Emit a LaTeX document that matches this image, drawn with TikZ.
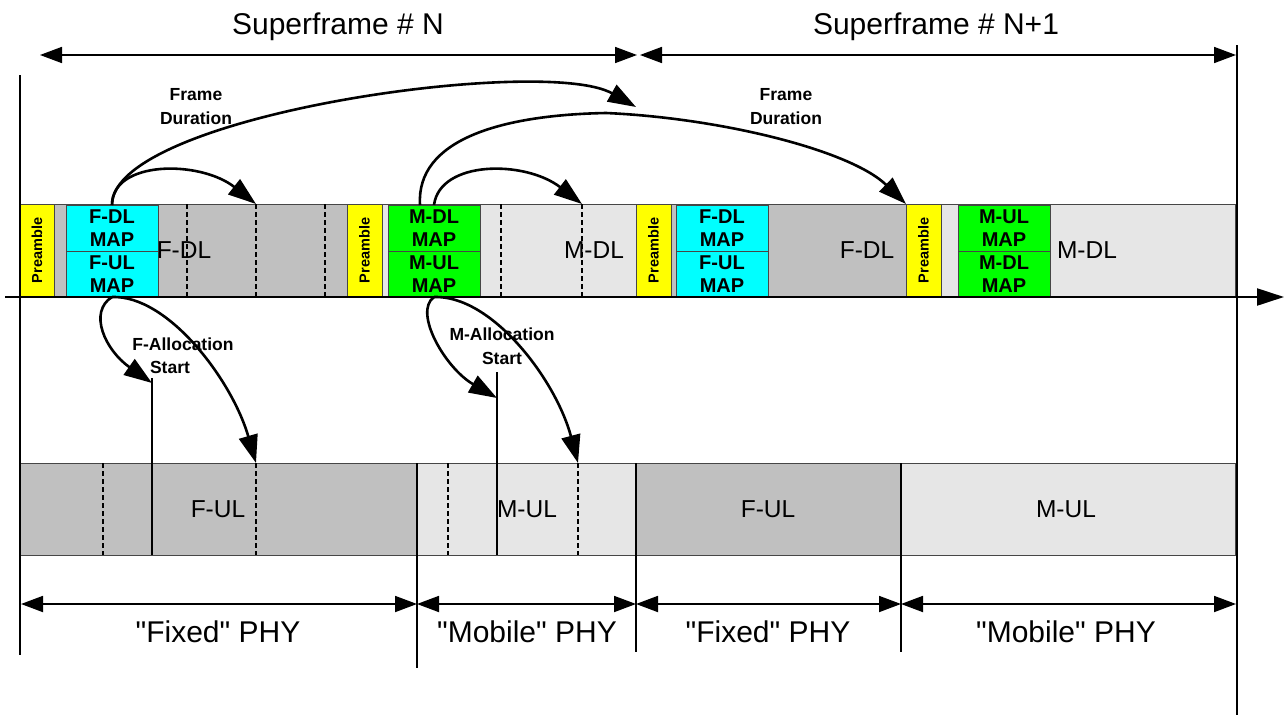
\documentclass[tikz,border=0pt]{standalone}
\usepackage{fontspec}
\setmainfont{Liberation Sans}
\usetikzlibrary{arrows.meta}
\definecolor{preY}{RGB}{255,255,0}
\definecolor{mapC}{RGB}{0,255,255}
\definecolor{mapG}{RGB}{0,255,0}
\definecolor{fGray}{RGB}{192,192,192}
\definecolor{mGray}{RGB}{230,230,230}
\definecolor{edgeC}{RGB}{70,70,70}
\begin{document}
\begin{tikzpicture}[x=1pt,y=-1pt,
  seg/.style={draw=edgeC, line width=0.9pt, inner sep=0pt, outer sep=0pt, anchor=north west},
  mapbox/.style={draw=edgeC, line width=0.9pt, inner sep=0pt, outer sep=0pt, minimum width=92pt, minimum height=46pt, align=center, font=\fontsize{20}{23}\selectfont\bfseries},
  pretext/.style={rotate=90, font=\fontsize{14.5}{16}\selectfont\bfseries},
  bigtext/.style={font=\fontsize{30}{34}\selectfont},
  midtext/.style={font=\fontsize{24.5}{28}\selectfont},
  notetext/.style={font=\fontsize{17.5}{24}\selectfont\bfseries, align=center},
  dashline/.style={dash pattern=on 5pt off 3pt, line width=1.3pt},
  curvearrow/.style={line width=2.6pt, -{Triangle[length=28pt,width=19pt]}},
  dimarrow/.style={line width=1.8pt, {Triangle[length=22pt,width=16pt]}-{Triangle[length=22pt,width=16pt]}},
  axisline/.style={line width=2.2pt},
  thinline/.style={line width=1.3pt},
]
\useasboundingbox (0,0) rectangle (1288,715);

% ---------- top band (downlink) ----------
\node[seg, fill=preY, minimum width=34pt, minimum height=93pt] (pre1) at (20,204) {};
\node[seg, fill=fGray, minimum width=293pt, minimum height=93pt] (fdl1) at (54,204) {};
\node[seg, fill=preY, minimum width=35pt, minimum height=93pt] (pre2) at (347,204) {};
\node[seg, fill=mGray, minimum width=254pt, minimum height=93pt] (mdl1) at (382,204) {};
\node[seg, fill=preY, minimum width=35pt, minimum height=93pt] (pre3) at (636,204) {};
\node[seg, fill=fGray, minimum width=235pt, minimum height=93pt] (fdl2) at (671,204) {};
\node[seg, fill=preY, minimum width=35pt, minimum height=93pt] (pre4) at (906,204) {};
\node[seg, fill=mGray, minimum width=294pt, minimum height=93pt] (mdl2) at (941,204) {};

\foreach \p in {pre1,pre2,pre3,pre4}
  \node[pretext] at (\p.center) {Preamble};

% dashed slot lines (downlink)
\foreach \xx in {187,256,325,501,582}
  \draw[dashline] (\xx,204) -- (\xx,297);

% map boxes
\node[mapbox, fill=mapC] (fdlmap1) at (112,228) {F-DL\\MAP};
\node[mapbox, fill=mapC] (fulmap1) at (112,274) {F-UL\\MAP};
\node[mapbox, fill=mapG] (mdlmap1) at (434,228) {M-DL\\MAP};
\node[mapbox, fill=mapG] (mulmap1) at (434,274) {M-UL\\MAP};
\node[mapbox, fill=mapC] (fdlmap2) at (722,228) {F-DL\\MAP};
\node[mapbox, fill=mapC] (fulmap2) at (722,274) {F-UL\\MAP};
\node[mapbox, fill=mapG] (mulmap2) at (1004,228) {M-UL\\MAP};
\node[mapbox, fill=mapG] (mdlmap2) at (1004,274) {M-DL\\MAP};

% band labels
\node[midtext] (lfdl1) at (184,250) {F-DL};
\node[midtext] (lmdl1) at (594,250) {M-DL};
\node[midtext] (lfdl2) at (867,250) {F-DL};
\node[midtext] (lmdl2) at (1087,250) {M-DL};

% ---------- lower band (uplink) ----------
\node[seg, fill=fGray, minimum width=397pt, minimum height=92pt] (ful1) at (20,463) {};
\node[seg, fill=mGray, minimum width=219pt, minimum height=92pt] (mul1) at (417,463) {};
\node[seg, fill=fGray, minimum width=265pt, minimum height=92pt] (ful2) at (636,463) {};
\node[seg, fill=mGray, minimum width=334pt, minimum height=92pt] (mul2) at (901,463) {};

\foreach \xx in {103,256,448,578}
  \draw[dashline] (\xx,463) -- (\xx,555);

\node[midtext] (lful1) at (218,509) {F-UL};
\node[midtext] (lmul1) at (527,509) {M-UL};
\node[midtext] (lful2) at (768,509) {F-UL};
\node[midtext] (lmul2) at (1066,509) {M-UL};

% allocation start markers
\coordinate (fa) at (152,383);
\coordinate (fatop) at (152,378);
\coordinate (fabot) at (152,555);
\coordinate (ma) at (497,398);
\coordinate (matop) at (497,372);
\coordinate (mabot) at (497,555);
\draw[thinline] (fatop) -- (fabot);
\draw[thinline] (matop) -- (mabot);

% ---------- frame lines and axis ----------
\coordinate (lt) at (20,75);
\coordinate (lb) at (20,655);
\coordinate (rt) at (1237,45);
\coordinate (rb) at (1237,715);
\draw[axisline] (lt) -- (lb);
\draw[axisline] (rt) -- (rb);
\coordinate (ax0) at (5,297);
\coordinate (ax1) at (1284,297);
\draw[axisline, -{Triangle[length=27pt,width=17pt]}] (ax0) -- (ax1);

% PHY dividers
\coordinate (d1t) at (417,463); \coordinate (d1b) at (417,668);
\coordinate (d2t) at (636,463); \coordinate (d2b) at (636,652);
\coordinate (d3t) at (901,463); \coordinate (d3b) at (901,652);
\draw[thinline] (d1t) -- (d1b);
\draw[thinline] (d2t) -- (d2b);
\draw[thinline] (d3t) -- (d3b);

% ---------- superframe dimension arrows ----------
\coordinate (sfa) at (40,55);
\coordinate (sfb) at (637,55);
\coordinate (sfc) at (640,55);
\coordinate (sfd) at (1236,55);
\draw[dimarrow] (sfa) -- (sfb);
\draw[dimarrow] (sfc) -- (sfd);
\node[bigtext] (sfN) at (338,27) {Superframe \# N};
\node[bigtext] (sfN1) at (936,27) {Superframe \# N+1};

% ---------- PHY dimension arrows ----------
\coordinate (p0) at (21,604);
\coordinate (p1) at (417,604);
\coordinate (p2) at (636,604);
\coordinate (p3) at (901,604);
\coordinate (p4) at (1236,604);
\draw[dimarrow] (p0) -- (p1);
\draw[dimarrow] (p1) -- (p2);
\draw[dimarrow] (p2) -- (p3);
\draw[dimarrow] (p3) -- (p4);
\node[bigtext] (phy1) at (218,632) {\textquotedbl Fixed\textquotedbl{} PHY};
\node[bigtext] (phy2) at (527,632) {\textquotedbl Mobile\textquotedbl{} PHY};
\node[bigtext] (phy3) at (768,632) {\textquotedbl Fixed\textquotedbl{} PHY};
\node[bigtext] (phy4) at (1066,632) {\textquotedbl Mobile\textquotedbl{} PHY};

% ---------- annotation texts ----------
\node[notetext] (fdur1) at (196,107) {Frame\\Duration};
\node[notetext] (fdur2) at (786,107) {Frame\\Duration};
\node[notetext] (falloc) at (183,344) {F-Allocation};
\node[notetext] (fstart) at (170,367) {Start};
\node[notetext] (malloc) at (502,334) {M-Allocation};
\node[notetext] (mstart) at (502,358) {Start};

% ---------- curved arrows ----------
\coordinate (fd1) at (636,107);
\coordinate (s1) at (256,204);
\coordinate (fdk) at (606,113);
\coordinate (fd2) at (906,204);
\coordinate (s2) at (582,204);
\coordinate (fb) at (256,463);
\coordinate (mb) at (578,463);

\draw[curvearrow] (fdlmap1.north) .. controls (112,115) and (545,55) .. (fd1);
\draw[curvearrow] (fdlmap1.north) .. controls (112,160) and (200,160) .. (s1);
\draw[curvearrow] ([xshift=-14pt]mdlmap1.north) .. controls (416,140) and (500,115) .. (fdk) .. controls (720,118) and (850,150) .. (fd2);
\draw[curvearrow] (mdlmap1.north) .. controls (440,160) and (525,160) .. (s2);

\draw[curvearrow] (fulmap1.south) .. controls (88,312) and (105,350) .. (fa);
\draw[curvearrow] (fulmap1.south) .. controls (168,295) and (232,380) .. (fb);
\draw[curvearrow] (mulmap1.south) .. controls (413,312) and (445,368) .. (ma);
\draw[curvearrow] (mulmap1.south) .. controls (492,295) and (556,380) .. (mb);
\end{tikzpicture}
\end{document}
